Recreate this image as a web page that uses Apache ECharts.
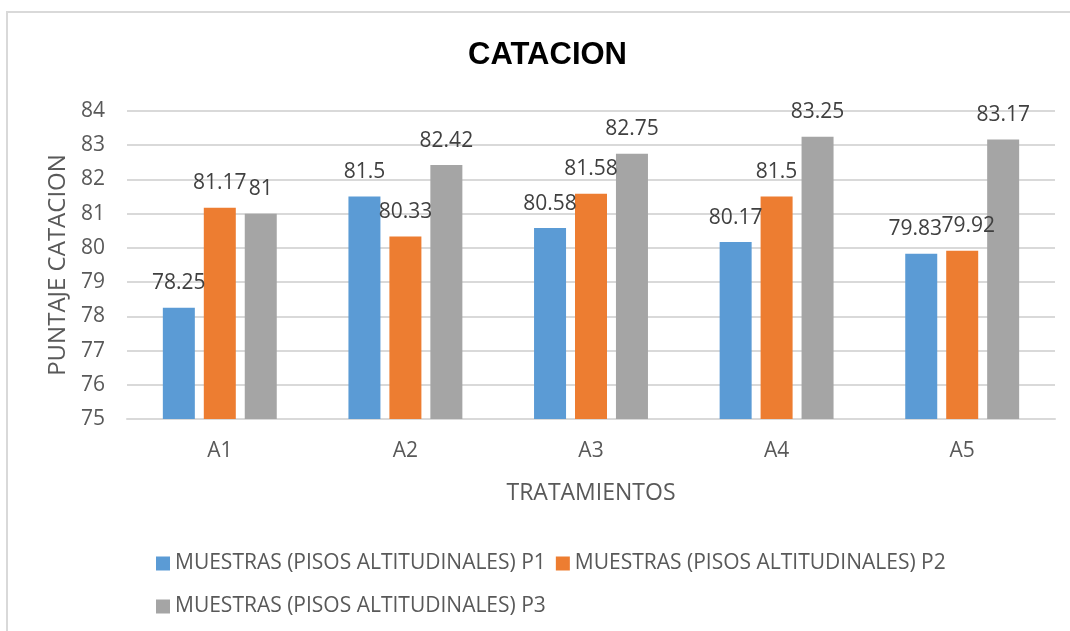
<!DOCTYPE html>
<html>
<head>
<meta charset="utf-8">
<title>CATACION</title>
<script src="https://cdn.jsdelivr.net/npm/echarts@6/dist/echarts.min.js"></script>
<style>
  html, body { margin: 0; padding: 0; background: #ffffff; }
  #chart { width: 1070px; height: 631px; }
</style>
</head>
<body>
<div id="chart"></div>
<script>
// Treatments (x axis)
const categories = ['A1', 'A2', 'A3', 'A4', 'A5'];

// Cupping scores per altitude level
const seriesNames = [
  'MUESTRAS (PISOS ALTITUDINALES) P1',
  'MUESTRAS (PISOS ALTITUDINALES) P2',
  'MUESTRAS (PISOS ALTITUDINALES) P3'
];
const p1Values = [78.25, 81.5, 80.58, 80.17, 79.83];
const p2Values = [81.17, 80.33, 81.58, 81.5, 79.92];
const p3Values = [81, 82.42, 82.75, 83.25, 83.17];

// Value axis range
const yMin = 75;
const yMax = 84;
const yStep = 1;

const FONT = '"Open Sans", "Noto Sans", sans-serif';
const colors = ['#5B9BD5', '#ED7D31', '#A5A5A5'];

// Nudge two crowded neighbouring value labels apart horizontally
function spreadLabel(shift) {
  return function (params) {
    return params.dataIndex === 4 ? { dx: shift } : {};
  };
}

function barSeries(name, values, color, labelShift) {
  return {
    name: name,
    type: 'bar',
    data: values,
    barWidth: 32,
    barGap: '28%',
    itemStyle: { color: color },
    label: {
      show: true,
      position: 'top',
      distance: 14,
      fontFamily: FONT,
      fontSize: 21,
      color: '#404040'
    },
    labelLayout: labelShift ? spreadLabel(labelShift) : undefined,
    emphasis: { disabled: true }
  };
}

const chart = echarts.init(document.getElementById('chart'), null, { renderer: 'canvas' });

chart.setOption({
  animation: false,
  backgroundColor: '#ffffff',
  color: colors,
  graphic: [{
    type: 'rect',
    shape: { x: 7, y: 12, width: 1080, height: 640 },
    style: { fill: 'none', stroke: '#d9d9d9', lineWidth: 2 },
    silent: true,
    z: -1
  }],
  title: {
    text: 'CATACION',
    left: 463,
    top: 35,
    textStyle: {
      fontFamily: '"Liberation Sans", Arial, sans-serif',
      fontWeight: 'bold',
      fontSize: 31,
      color: '#000000'
    }
  },
  legend: [{
    left: 151,
    top: 548,
    itemWidth: 14,
    itemHeight: 14,
    itemGap: 10,
    icon: 'rect',
    data: [seriesNames[0], seriesNames[1]],
    textStyle: { fontFamily: FONT, fontSize: 21, color: '#595959' }
  }, {
    left: 151,
    top: 591,
    itemWidth: 14,
    itemHeight: 14,
    itemGap: 10,
    icon: 'rect',
    data: [seriesNames[2]],
    textStyle: { fontFamily: FONT, fontSize: 21, color: '#595959' }
  }],
  grid: { left: 127, right: 15, top: 111, bottom: 212, containLabel: false },
  xAxis: {
    type: 'category',
    data: categories,
    name: 'TRATAMIENTOS',
    nameLocation: 'middle',
    nameGap: 63,
    nameTextStyle: { fontFamily: FONT, fontSize: 23, color: '#595959' },
    axisLine: { lineStyle: { color: '#d9d9d9', width: 2 } },
    axisTick: { show: false },
    axisLabel: { margin: 22, fontFamily: FONT, fontSize: 21, color: '#595959' }
  },
  yAxis: {
    type: 'value',
    min: yMin,
    max: yMax,
    interval: yStep,
    name: 'PUNTAJE CATACION',
    nameLocation: 'middle',
    nameGap: 57,
    nameTextStyle: { fontFamily: FONT, fontSize: 24, color: '#595959' },
    axisLine: { show: false },
    axisTick: { show: false },
    axisLabel: { margin: 22, fontFamily: FONT, fontSize: 21, color: '#595959' },
    splitLine: { lineStyle: { color: '#d9d9d9', width: 2 } }
  },
  series: [
    barSeries(seriesNames[0], p1Values, colors[0], -6),
    barSeries(seriesNames[1], p2Values, colors[1], 6),
    barSeries(seriesNames[2], p3Values, colors[2], 0)
  ]
});
</script>
</body>
</html>
